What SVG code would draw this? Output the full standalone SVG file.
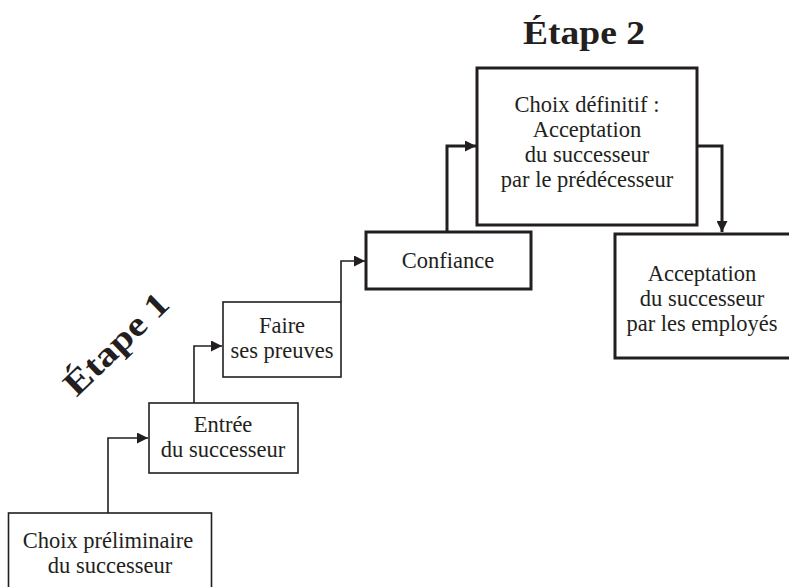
<svg xmlns="http://www.w3.org/2000/svg" width="789" height="587" viewBox="0 0 789 587">
<defs>
<style>
.box{fill:#fff;stroke:#231f20;stroke-width:1.6}
.box2{fill:#fff;stroke:#231f20;stroke-width:3}
.t{font-family:"Liberation Serif","Times New Roman",serif;font-size:22.5px;fill:#231f20;text-anchor:middle}
.h{font-family:"Liberation Serif","Times New Roman",serif;font-weight:bold;font-size:34px;fill:#231f20;text-anchor:middle}
.c{fill:none;stroke:#231f20;stroke-width:1.6}
.c2{fill:none;stroke:#231f20;stroke-width:3}
</style>
<marker id="ah" viewBox="0 0 10 10" refX="10" refY="5" markerWidth="12" markerHeight="11" markerUnits="userSpaceOnUse" orient="auto">
<path d="M0,0 L10,5 L0,10 Z" fill="#231f20"/>
</marker>
</defs>
<rect width="789" height="587" fill="#fff"/>
<g id="connectors">
<path class="c" d="M108,513 V438 H148" marker-end="url(#ah)"/>
<path class="c" d="M194,403 V346 H222" marker-end="url(#ah)"/>
<path class="c" d="M341,302 V261 H365" marker-end="url(#ah)"/>
<path class="c2" d="M447,231 V146 H476" marker-end="url(#ah)"/>
<path class="c2" d="M697,146 H722 V232" marker-end="url(#ah)"/>
</g>
<g id="n1">
<rect class="box" x="8.5" y="513" width="203" height="90"/>
<text class="t" x="108" y="548">Choix préliminaire</text>
<text class="t" x="110" y="573">du successeur</text>
</g>
<g id="n2">
<rect class="box" x="149" y="403" width="149" height="70"/>
<text class="t" x="223" y="432">Entrée</text>
<text class="t" x="223" y="457">du successeur</text>
</g>
<g id="n3">
<rect class="box" x="223" y="302" width="118" height="75"/>
<text class="t" x="282" y="333">Faire</text>
<text class="t" x="282" y="358">ses preuves</text>
</g>
<g id="n4">
<rect class="box2" x="366" y="232" width="165" height="57"/>
<text class="t" x="448" y="268">Confiance</text>
</g>
<g id="n5">
<rect class="box2" x="477" y="68" width="220" height="157"/>
<text class="t" x="587" y="112">Choix définitif :</text>
<text class="t" x="587" y="137">Acceptation</text>
<text class="t" x="587" y="162">du successeur</text>
<text class="t" x="587" y="187">par le prédécesseur</text>
</g>
<g id="n6">
<rect class="box2" x="615" y="234" width="190" height="124"/>
<text class="t" x="702" y="281">Acceptation</text>
<text class="t" x="702" y="306">du successeur</text>
<text class="t" x="702" y="331">par les employés</text>
</g>
<text class="h" x="584" y="44" textLength="122" lengthAdjust="spacingAndGlyphs">Étape 2</text>
<text class="h" transform="translate(124,352) rotate(-44)" x="0" y="0" font-size="36" textLength="132" lengthAdjust="spacingAndGlyphs">Étape 1</text>
</svg>
